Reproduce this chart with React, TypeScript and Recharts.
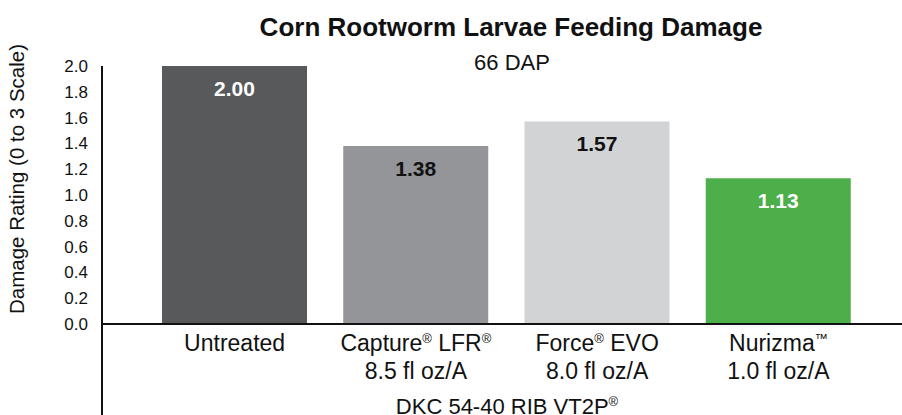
import { BarChart, Bar, XAxis, YAxis, Cell, LabelList, Label } from "recharts";

const categories = ["Untreated", "Capture® LFR®", "Force® EVO", "Nurizma™"];
const rates = ["", "8.5 fl oz/A", "8.0 fl oz/A", "1.0 fl oz/A"];
const damageRating = [2.0, 1.38, 1.57, 1.13];
const yTicks = [0, 0.2, 0.4, 0.6, 0.8, 1.0, 1.2, 1.4, 1.6, 1.8, 2.0];

const BAR_COLORS = ["#58595b", "#939598", "#d1d3d4", "#4caf4a"];
const LABEL_COLORS = ["#ffffff", "#111111", "#111111", "#ffffff"];
const FONT = "'Liberation Sans', Arial, Helvetica, sans-serif";
const INK = "#111111";

const chartData = categories.map((name, i) => ({
  name,
  rate: rates[i],
  value: damageRating[i],
}));

// split text so that ® and ™ render as small raised marks
function richText(text: string, supSize: number, raise: number) {
  const parts: any[] = [];
  let buf = "";
  let raised = false;
  const flush = () => {
    if (buf) {
      parts.push(
        <tspan key={parts.length} dy={raised ? raise : 0}>
          {buf}
        </tspan>
      );
      raised = false;
      buf = "";
    }
  };
  for (const ch of text) {
    if (ch === "®" || ch === "™") {
      flush();
      parts.push(
        <tspan key={parts.length} fontSize={supSize} dy={-raise}>
          {ch}
        </tspan>
      );
      raised = true;
    } else {
      buf += ch;
    }
  }
  flush();
  return parts;
}

function ProductTick(props: any) {
  const { x, y, payload } = props;
  const rate = rates[payload.index] ?? "";
  return (
    <g>
      <text x={x} y={y + 19} textAnchor="middle" fill={INK} fontSize={23} fontFamily={FONT}>
        {richText(payload.value, 13, 8)}
      </text>
      {rate && (
        <text x={x} y={y + 47} textAnchor="middle" fill={INK} fontSize={23} fontFamily={FONT}>
          {rate}
        </text>
      )}
    </g>
  );
}

function ValueLabel(props: any) {
  const { x, y, width, value, index } = props;
  return (
    <text
      x={x + width / 2}
      y={y + 30}
      textAnchor="middle"
      fill={LABEL_COLORS[index] ?? INK}
      fontSize={21}
      fontWeight="bold"
      fontFamily={FONT}
    >
      {Number(value).toFixed(2)}
    </text>
  );
}

function YTitle(props: any) {
  const vb = props.viewBox || { x: 0, y: 66, height: 258 };
  const cx = 24;
  const cy = vb.y + vb.height / 2 - 16;
  return (
    <text
      x={cx}
      y={cy}
      transform={`rotate(-90 ${cx} ${cy})`}
      textAnchor="middle"
      fill={INK}
      fontSize={20.5}
      fontFamily={FONT}
    >
      Damage Rating (0 to 3 Scale)
    </text>
  );
}

export default function App() {
  return (
    <div style={{ position: "absolute", left: 0, top: 0, width: 902, height: 415, background: "#fff" }}>
      <BarChart
        width={902}
        height={415}
        data={chartData}
        margin={{ top: 66, right: 0, bottom: 0, left: 0 }}
        barSize={145}
      >
        <XAxis
          dataKey="name"
          height={91}
          tick={<ProductTick />}
          tickLine={false}
          axisLine={{ stroke: INK, strokeWidth: 2 }}
          padding={{ left: 42, right: 33 }}
          interval={0}
        />
        <YAxis
          width={102}
          domain={[0, 2]}
          ticks={yTicks}
          tickFormatter={(v: number) => v.toFixed(1)}
          tickLine={false}
          tickSize={6}
          tickMargin={8}
          axisLine={{ stroke: INK, strokeWidth: 2 }}
          tick={{ fill: INK, fontSize: 17, fontFamily: FONT }}
          interval={0}
        >
          <Label content={<YTitle />} />
        </YAxis>
        <Bar dataKey="value" isAnimationActive={false}>
          {chartData.map((d, i) => (
            <Cell key={d.name} fill={BAR_COLORS[i]} />
          ))}
          <LabelList dataKey="value" content={<ValueLabel />} />
        </Bar>
      </BarChart>
      <svg
        width={902}
        height={415}
        style={{ position: "absolute", left: 0, top: 0, pointerEvents: "none" }}
      >
        <text x={511} y={36} textAnchor="middle" fill={INK} fontSize={26} fontWeight="bold" fontFamily={FONT}>
          Corn Rootworm Larvae Feeding Damage
        </text>
        <text x={512} y={70} textAnchor="middle" fill={INK} fontSize={22} fontFamily={FONT}>
          66 DAP
        </text>
        <line x1={102} y1={324} x2={102} y2={415} stroke={INK} strokeWidth={2} />
        <text x={507} y={414} textAnchor="middle" fill={INK} fontSize={22} fontFamily={FONT}>
          {richText("DKC 54-40 RIB VT2P®", 13, 8)}
        </text>
      </svg>
    </div>
  );
}
